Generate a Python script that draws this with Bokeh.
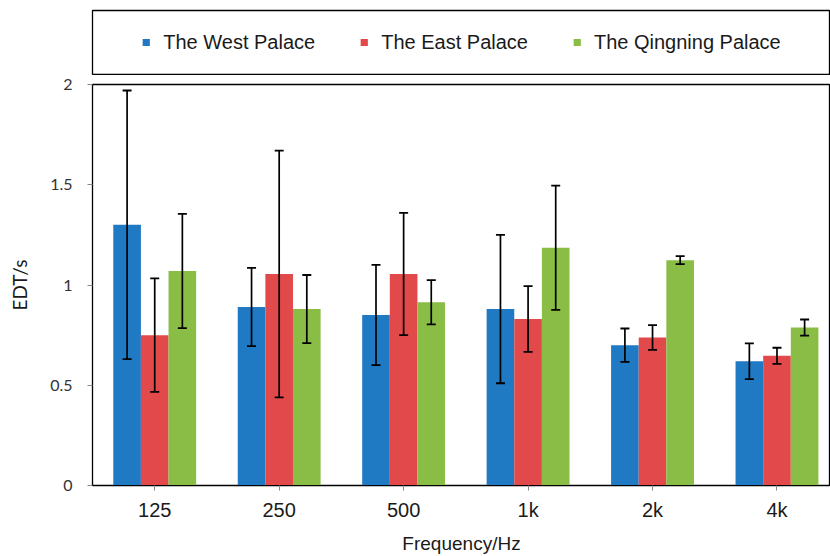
from bokeh.plotting import figure
from bokeh.models import (ColumnDataSource, Range1d, FixedTicker,
                          Legend, LegendItem)
from bokeh.transform import dodge
from bokeh.layouts import column
from bokeh.embed import file_html
from bokeh.resources import INLINE

# ---- data ----
frequencies = ["125", "250", "500", "1k", "2k", "4k"]
series_names = ["The West Palace", "The East Palace", "The Qingning Palace"]
west = [1.30, 0.89, 0.85, 0.88, 0.70, 0.62]
west_err = [0.67, 0.195, 0.25, 0.37, 0.083, 0.089]
east = [0.75, 1.055, 1.055, 0.83, 0.738, 0.647]
east_err = [0.283, 0.615, 0.305, 0.164, 0.062, 0.04]
qing = [1.07, 0.88, 0.914, 1.186, 1.124, 0.788]
qing_err = [0.285, 0.17, 0.11, 0.31, 0.02, 0.04]
y_ticks = [0, 0.5, 1, 1.5, 2]
y_tick_labels = ["0", "0.5", "1", "1.5", "2"]

colors = ["#1f79c3", "#e2494a", "#8abd46"]

xpos = [i + 0.5 for i in range(len(frequencies))]
data = dict(x=xpos)
for key, vals, errs in (("west", west, west_err), ("east", east, east_err), ("qing", qing, qing_err)):
    data[key] = vals
    data[key + "_lo"] = [v - e for v, e in zip(vals, errs)]
    data[key + "_hi"] = [v + e for v, e in zip(vals, errs)]
source = ColumnDataSource(data)

W = 830
offset = 0.222
bar_w = 0.222

# ---- legend box figure ----
leg = figure(width=W, height=75, x_axis_type=None, y_axis_type=None,
             toolbar_location=None, output_backend="svg",
             min_border_left=90, min_border_right=0, min_border_top=10, min_border_bottom=1,
             x_range=Range1d(0, 1), y_range=Range1d(0, 1))
leg.grid.visible = False
leg.outline_line_color = "black"
leg.outline_line_width = 1.3
offscreen = ColumnDataSource(dict(x=[-10], top=[-10]))
items = []
for name, c in zip(series_names, colors):
    r = leg.vbar(x="x", top="top", width=0.1, source=offscreen, fill_color=c, line_color=None)
    items.append(LegendItem(label=name, renderers=[r]))
legend = Legend(items=items, orientation="horizontal", location="center",
                border_line_color=None, background_fill_alpha=0,
                label_text_font="Liberation Sans", label_text_font_size="20px",
                label_text_color="#1a1a1a", glyph_width=9, glyph_height=9,
                label_standoff=13, spacing=44, padding=0, margin=0)
leg.add_layout(legend, "center")

# ---- main figure ----
p = figure(width=W, height=481, toolbar_location=None, output_backend="svg",
           x_range=Range1d(0, 5.93), y_range=Range1d(0, 2),
           min_border_left=92, min_border_right=0, min_border_top=9, min_border_bottom=70)
p.grid.visible = False
p.outline_line_color = "black"
p.outline_line_width = 1.3

keys = ["west", "east", "qing"]
for k, c, off in zip(keys, colors, (-offset, 0.0, offset)):
    xd = dodge("x", off, range=p.x_range)
    p.vbar(x=xd, top=k, width=bar_w, source=source, fill_color=c, line_color=None)

# error bars drawn after all bars so they sit on top
for k, off in zip(keys, (-offset, 0.0, offset)):
    xd = dodge("x", off, range=p.x_range)
    p.segment(x0=xd, y0=k + "_lo", x1=xd, y1=k + "_hi", source=source,
              line_color="black", line_width=1.7)
    p.scatter(x=xd, y=k + "_hi", source=source, marker="dash", size=9,
              line_color="black", line_width=1.8)
    p.scatter(x=xd, y=k + "_lo", source=source, marker="dash", size=9,
              line_color="black", line_width=1.8)

xa = p.xaxis[0]
xa.ticker = FixedTicker(ticks=xpos)
xa.major_label_overrides = {x: f for x, f in zip(xpos, frequencies)}
xa.minor_tick_line_color = None
xa.major_tick_out = 5
xa.major_tick_in = 0
xa.major_tick_line_color = "#888888"
xa.axis_line_color = "black"
xa.major_label_text_font = "Liberation Sans"
xa.major_label_text_font_size = "20px"
xa.major_label_text_color = "#1a1a1a"
xa.major_label_standoff = 8
xa.axis_label = "Frequency/Hz"
xa.axis_label_text_font = "Liberation Sans"
xa.axis_label_text_font_size = "19px"
xa.axis_label_text_font_style = "normal"
xa.axis_label_text_color = "#1a1a1a"
xa.axis_label_standoff = 9

ya = p.yaxis[0]
ya.ticker = FixedTicker(ticks=y_ticks)
ya.major_label_overrides = {t: l for t, l in zip(y_ticks, y_tick_labels)}
ya.minor_tick_line_color = None
ya.major_tick_out = 5
ya.major_tick_in = 0
ya.major_tick_line_color = "#888888"
ya.axis_line_color = "black"
ya.major_label_text_font = "Lato"
ya.major_label_text_font_size = "16px"
ya.major_label_text_color = "#333333"
ya.major_label_standoff = 15
ya.axis_label = "EDT/s"
ya.axis_label_text_font = "Lato"
ya.axis_label_text_font_size = "19px"
ya.axis_label_text_font_style = "normal"
ya.axis_label_text_color = "#1a1a1a"
ya.axis_label_standoff = 16

layout = column(leg, p, spacing=0)
open("out.html", "w").write(file_html(layout, INLINE))
